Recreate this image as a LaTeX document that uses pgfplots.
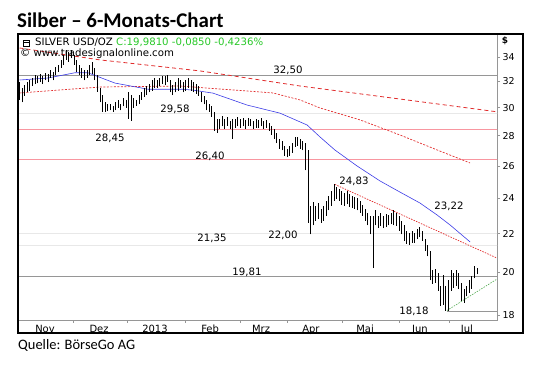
\documentclass[border=0pt]{standalone}
\usepackage{pgfplots}
\pgfplotsset{compat=1.18}
\usepackage{pgfplotstable}
\usepackage{fontspec}
\setmainfont{Carlito}
\newfontfamily\dv{DejaVu Sans}
\definecolor{mared}{RGB}{225,45,45}
\definecolor{grayl}{RGB}{150,150,150}
\definecolor{pinkl}{RGB}{248,150,160}
\definecolor{mablue}{RGB}{60,60,230}
\definecolor{tgreen}{RGB}{40,200,40}
\definecolor{lgreen}{RGB}{80,170,80}

\pgfplotstableread{
d lo hi
0 30.60 31.95
1 30.40 31.50
2 30.90 31.70
3 31.15 31.95
4 31.30 32.10
5 31.65 32.30
6 31.80 32.50
7 31.85 32.45
8 31.95 32.60
9 31.80 32.45
10 32.10 32.70
11 31.95 32.60
12 32.30 32.95
13 32.10 32.80
14 32.50 33.20
15 32.80 33.35
16 33.10 33.75
17 33.35 34.15
18 33.75 34.60
19 33.60 34.40
20 33.90 34.60
21 33.35 34.15
22 32.80 33.75
23 32.50 33.35
24 32.30 33.10
25 32.10 32.95
26 32.30 32.95
27 32.50 33.35
28 32.60 33.60
29 32.10 33.10
30 31.20 32.50
31 30.40 31.50
32 29.70 30.95
33 29.70 30.40
34 29.75 30.25
35 29.80 30.30
36 29.70 30.15
37 29.80 30.40
38 30.00 30.60
39 29.80 30.30
40 30.10 30.70
41 30.00 30.60
42 29.20 31.20
43 29.05 30.95
44 30.00 30.70
45 30.15 30.60
46 30.25 30.95
47 30.60 31.20
48 30.80 31.50
49 30.95 31.65
50 31.15 31.80
51 31.30 32.10
52 31.50 32.30
53 31.50 32.10
54 31.65 32.30
55 31.80 32.45
56 31.70 32.40
57 31.95 32.50
58 31.15 32.10
59 30.95 31.70
60 31.15 31.95
61 31.30 32.30
62 31.50 32.10
63 31.15 31.95
64 31.30 32.10
65 31.50 32.30
66 31.30 32.10
67 31.15 31.95
68 31.05 31.80
69 30.90 31.65
70 30.40 31.20
71 30.25 30.90
72 29.80 30.60
73 29.70 30.25
74 29.35 30.10
75 28.35 29.70
76 28.20 29.20
77 28.50 29.20
78 28.65 29.40
79 28.50 29.20
80 28.70 29.35
81 28.50 29.05
82 27.80 29.20
83 28.55 29.20
84 28.65 29.35
85 28.55 29.20
86 28.65 29.25
87 28.50 29.10
88 28.70 29.25
89 28.65 29.20
90 28.50 29.05
91 28.55 29.20
92 28.55 29.10
93 28.65 29.25
94 28.50 29.05
95 28.55 29.10
96 28.35 28.90
97 28.05 28.70
98 27.80 28.50
99 27.50 28.20
100 27.10 27.80
101 27.00 27.65
102 26.65 27.30
103 26.55 27.10
104 26.65 27.30
105 26.85 27.50
106 27.25 27.90
107 27.30 27.90
108 27.10 27.80
109 27.00 27.65
110 25.70 27.50
111 22.60 27.00
112 21.95 23.55
113 22.45 23.75
114 22.70 23.55
115 22.80 23.70
116 22.60 23.40
117 22.70 23.55
118 23.00 23.85
119 23.30 24.15
120 23.55 24.45
121 23.85 24.83
122 23.95 24.70
123 23.85 24.55
124 23.60 24.45
125 23.55 24.30
126 23.65 24.45
127 23.50 24.25
128 23.45 24.15
129 23.40 24.10
130 23.30 24.00
131 23.15 23.85
132 23.00 23.60
133 22.70 23.40
134 22.45 23.15
135 21.95 23.00
136 20.20 23.00
137 22.45 23.30
138 22.30 23.00
139 22.40 23.15
140 22.30 23.00
141 22.35 23.10
142 22.45 23.05
143 22.50 23.15
144 22.45 23.30
145 22.40 23.15
146 22.15 23.00
147 21.95 22.70
148 21.60 22.45
149 21.45 22.15
150 21.40 22.05
151 21.50 22.15
152 21.50 22.05
153 21.70 22.25
154 21.80 22.35
155 21.60 22.15
156 21.10 21.70
157 20.80 21.40
158 19.60 21.10
159 19.45 20.10
160 19.50 20.15
161 19.10 19.95
162 18.40 19.35
163 18.45 19.85
164 18.20 19.35
165 18.18 19.60
166 19.10 20.10
167 19.25 19.95
168 19.35 20.10
169 19.20 19.95
170 18.65 19.50
171 18.55 19.20
172 18.85 19.35
173 19.00 19.60
174 19.20 19.80
175 19.70 20.30
176 19.90 20.20
}\price

\begin{document}
\begin{tikzpicture}
\path[use as bounding box] (-18bp,-47bp) rectangle (522bp,320bp);
\begin{axis}[
  at={(0,0)}, anchor=south west, scale only axis,
  width=479bp, height=286bp,
  xmin=-0.58, xmax=183.65,
  ymode=log, ymin=17.78, ymax=35.98,
  axis line style={draw=grayl, line width=0.7bp},
  ytick={18,20,22,24,26,28,30,32,34},
  yticklabels={18,20,22,24,26,28,30,32,34},
  minor ytick={},
  ytick pos=right, yticklabel pos=right,
  xtick={20.6,41.3,63.7,84.8,102.9,124.0,146.0,165.2},
  xticklabels={},
  extra x ticks={9.8,30.6,52.1,73.3,92.9,112.1,132.9,154.0,172.1},
  extra x tick labels={Nov,Dez,2013,Feb,Mrz,Apr,Mai,Jun,Jul},
  extra x tick style={major tick length=0pt},
  xtick pos=bottom,
  tick align=outside,
  major tick length=3bp,
  tick style={grayl, line width=0.5bp},
  yticklabel style={font=\dv\fontsize{9.5}{10}\selectfont, xshift=-1bp},
  xticklabel style={font=\dv\fontsize{10}{11}\selectfont, yshift=-1.5bp},
  clip=true,
]
% horizontal levels
\addplot[gray!18, line width=0.6bp] coordinates {(-1,29.58) (185,29.58)};
\addplot[gray!18, line width=0.6bp] coordinates {(-1,22.00) (185,22.00)};
\addplot[gray!18, line width=0.6bp] coordinates {(-1,21.35) (185,21.35)};
\addplot[grayl, line width=0.8bp] coordinates {(-1,32.50) (185,32.50)};
\addplot[pinkl, line width=1.3bp] coordinates {(-1,28.45) (185,28.45)};
\addplot[pinkl, line width=1.3bp] coordinates {(-1,26.40) (185,26.40)};
\addplot[grayl, line width=0.8bp] coordinates {(-1,19.81) (185,19.81)};
\addplot[grayl, line width=0.8bp] coordinates {(164.4,18.18) (185,18.18)};
% long-term average (dashed red)
\addplot[mared, line width=0.8bp, dash pattern=on 4bp off 3bp] coordinates {
(0,34.76) (31,33.75) (69.4,32.85) (107.9,31.65) (146.3,30.65) (183.65,29.70)};
% medium average (fine dashed red)
\addplot[mared, line width=0.7bp, dash pattern=on 2bp off 1.5bp] coordinates {
(0,31.11) (15.6,31.34) (31,31.57) (61.7,31.65) (97.5,31.11) (107.9,30.58)
(115.6,29.98) (131,29.11) (146.3,28.05) (161.7,26.96) (173.3,26.18)};
% short average (blue)
\addplot[mablue, line width=0.6bp] coordinates {
(0,32.12) (11,32.28) (21.3,32.70) (26.3,32.70) (36.7,31.88) (49.4,31.40)
(62.5,31.40) (66.7,31.33) (74.4,31.10) (87.5,30.20) (100.2,29.60)
(110.6,28.75) (115.6,27.91) (121.3,27.03) (129.8,25.99) (138.7,25.04)
(146.3,24.37) (154,23.72) (160.6,23.03) (165.6,22.47) (173.3,21.55)};
% trend lines
\addplot[mared, line width=0.7bp, dash pattern=on 1.5bp off 1.2bp] coordinates {(121.3,24.83) (183.65,20.71)};
\addplot[lgreen, line width=0.6bp, dash pattern=on 1.5bp off 1.2bp] coordinates {(164.4,18.20) (183.65,19.67)};
% price bars (high-low)
\addplot[draw=none, mark=none,
  error bars/.cd, y dir=plus, y explicit, error mark=none,
  error bar style={draw=black, solid, line width=1bp}]
  table[x=d, y=lo, y error expr=\thisrow{hi}-\thisrow{lo}] {\price};
\end{axis}
% frame
\draw[black, line width=1.3bp] (0,-13bp) rectangle (505bp,286bp);
% texts
\node[anchor=base west, inner sep=0, font=\bfseries\fontsize{21}{24}\selectfont] at (-1bp,292bp) {Silber – 6-Monats-Chart};
\node[anchor=base west, inner sep=0, font=\fontsize{14.5}{17}\selectfont] at (0bp,-29.5bp) {Quelle: BörseGo AG};
\begin{scope}[every node/.style={inner sep=0, font=\dv\fontsize{10.2}{11}\selectfont}]
\draw[black, line width=0.6bp] (5bp,274bp) rectangle (11bp,280bp);
\draw[black, line width=0.6bp] (5bp,278bp) -- (11bp,278bp);
\node[anchor=base west] at (17bp,274bp) {SILVER USD/OZ \textcolor{tgreen}{C:19,9810 -0,0850 -0,4236\%}};
\node[anchor=base west] at (2bp,263bp) {© www.tradesignalonline.com};
\node at (270bp,250bp) {32,50};
\node at (157bp,211bp) {29,58};
\node at (92bp,182bp) {28,45};
\node at (192bp,164bp) {26,40};
\node at (194bp,82bp) {21,35};
\node at (265bp,85bp) {22,00};
\node at (336bp,139bp) {24,83};
\node at (431bp,114bp) {23,22};
\node at (229bp,48bp) {19,81};
\node at (396bp,9bp) {18,18};
\node[font=\dv\bfseries\fontsize{9}{10}\selectfont] at (487bp,279bp) {\$};
\end{scope}
\end{tikzpicture}
\end{document}
